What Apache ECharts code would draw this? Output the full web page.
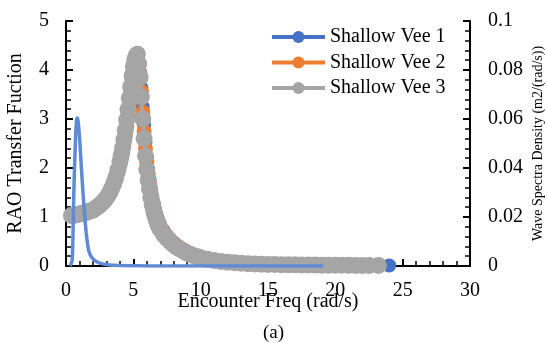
<!DOCTYPE html>
<html>
<head>
<meta charset="utf-8">
<script src="https://cdn.jsdelivr.net/npm/echarts@6/dist/echarts.min.js"></script>
<style>
  html, body { margin: 0; padding: 0; background: #fff; }
  #chart { width: 547px; height: 343px; }
</style>
</head>
<body>
<div id="chart"></div>
<script>
// Encounter frequency grid (rad/s) shared by the three RAO curves
const freq = [
  0.4, 0.55, 0.7, 0.85, 1.0, 1.15, 1.3, 1.45, 1.6, 1.75, 1.9, 2.05, 2.2, 2.35, 2.5, 2.65, 2.8, 2.95, 3.1, 3.25, 3.4, 3.55, 3.7, 3.85,
  4.0, 4.1, 4.2, 4.3, 4.4, 4.5, 4.6, 4.7, 4.8, 4.9, 5.0, 5.1, 5.2, 5.3, 5.4, 5.5, 5.6, 5.7, 5.8, 5.9, 6.0, 6.1, 6.2, 6.3, 6.4, 6.5, 6.6, 6.7, 6.8, 6.9,
  7.0, 7.25, 7.5, 7.75, 8.0, 8.25, 8.5, 8.75, 9.0, 9.25, 9.5, 9.75,
  10.0, 10.5, 11.0, 11.5, 12.0, 12.5, 13.0, 13.5, 14.0, 14.5, 15.0, 15.5, 16.0, 16.5, 17.0, 17.5, 18.0, 18.5, 19.0, 19.5, 20.0, 20.5, 21.0, 21.5, 22.0, 22.5,
  23.2, 24.0
];

// RAO transfer function, Shallow Vee 1
const raoVee1 = [
  1.02, 1.02, 1.03, 1.04, 1.05, 1.06, 1.07, 1.08, 1.09, 1.10, 1.12, 1.14, 1.16, 1.19, 1.22, 1.26, 1.30, 1.35, 1.40, 1.47, 1.55, 1.64, 1.75, 1.89,
  2.04, 2.16, 2.30, 2.45, 2.63, 2.82, 3.03, 3.25, 3.47, 3.69, 3.89, 4.05, 4.15, 4.19, 4.12, 3.95, 3.64, 3.25, 2.87, 2.52, 2.22, 1.97, 1.76, 1.58, 1.42, 1.28, 1.16, 1.06, 0.97, 0.90,
  0.84, 0.72, 0.62, 0.54, 0.48, 0.42, 0.37, 0.33, 0.29, 0.26, 0.23, 0.21,
  0.19, 0.15, 0.12, 0.10, 0.085, 0.072, 0.062, 0.053, 0.046, 0.041, 0.036, 0.032, 0.029, 0.027, 0.025, 0.023, 0.021, 0.020, 0.019, 0.018, 0.017, 0.016, 0.015, 0.014, 0.013, 0.013,
  0.012, 0.011
];

// RAO transfer function, Shallow Vee 2
const raoVee2 = [
  1.02, 1.02, 1.03, 1.04, 1.05, 1.06, 1.07, 1.08, 1.09, 1.11, 1.12, 1.14, 1.17, 1.20, 1.23, 1.27, 1.31, 1.36, 1.41, 1.48, 1.56, 1.66, 1.77, 1.91,
  2.07, 2.19, 2.33, 2.49, 2.67, 2.87, 3.08, 3.30, 3.52, 3.74, 3.93, 4.09, 4.19, 4.22, 4.10, 3.90, 3.56, 3.14, 2.75, 2.40, 2.11, 1.88, 1.68, 1.51, 1.36, 1.23, 1.12, 1.02, 0.94, 0.87,
  0.81, 0.69, 0.60, 0.53, 0.46, 0.41, 0.36, 0.32, 0.28, 0.25, 0.22, 0.20,
  0.18, 0.145, 0.115, 0.095, 0.080, 0.068, 0.058, 0.050, 0.044, 0.039, 0.035, 0.031, 0.028, 0.026, 0.024, 0.022, 0.020, 0.019, 0.018, 0.017, 0.016, 0.015, 0.014, 0.013, 0.013, 0.012,
  0.011
];

// RAO transfer function, Shallow Vee 3
const raoVee3 = [
  1.03, 1.03, 1.04, 1.05, 1.06, 1.07, 1.08, 1.09, 1.10, 1.12, 1.13, 1.15, 1.18, 1.21, 1.24, 1.28, 1.32, 1.37, 1.43, 1.50, 1.59, 1.69, 1.81, 1.96,
  2.13, 2.26, 2.41, 2.58, 2.77, 2.98, 3.20, 3.43, 3.66, 3.88, 4.07, 4.21, 4.29, 4.32, 4.12, 3.85, 3.45, 3.00, 2.60, 2.25, 1.97, 1.75, 1.57, 1.40, 1.26, 1.14, 1.03, 0.94, 0.87, 0.80,
  0.75, 0.64, 0.56, 0.49, 0.43, 0.38, 0.34, 0.30, 0.26, 0.23, 0.21, 0.19,
  0.17, 0.14, 0.11, 0.09, 0.075, 0.065, 0.055, 0.048, 0.042, 0.037, 0.033, 0.030, 0.027, 0.025, 0.023, 0.021, 0.019, 0.018, 0.017, 0.016, 0.015, 0.014, 0.013, 0.012, 0.012, 0.011,
  0.010
];

// Wave spectrum (m2/(rad/s)) against encounter frequency
const specFreq = [
  0.3, 0.45, 0.5, 0.55, 0.6, 0.65, 0.7, 0.75, 0.8, 0.85, 0.9, 0.95, 1.0, 1.1, 1.2, 1.3, 1.4, 1.5, 1.6, 1.7, 1.85, 2.1, 2.5, 3.0, 3.5, 4.5,
  6.0, 8.0, 10.0, 12.0, 14.0, 16.0, 18.0, 19.1
];
const specDensity = [
  0, 0.002, 0.008, 0.022, 0.034, 0.043, 0.051, 0.057, 0.060, 0.0604, 0.059, 0.056, 0.053, 0.044, 0.035, 0.027, 0.0196, 0.0136, 0.009, 0.006, 0.004, 0.0024, 0.0012, 0.0006, 0.0003, 0.0001,
  0.00005, 0.00003, 0.00002, 0.00002, 0.00001, 0.00001, 0.00001, 0.00001
];

const seriesNames = ['Shallow Vee 1', 'Shallow Vee 2', 'Shallow Vee 3'];
const seriesColors = ['#4472C4', '#ED7D31', '#A5A5A5'];
const spectrumColor = '#5F8BD6';

const FONT = 'Liberation Serif';
const pairs = (xs, ys) => ys.map((y, i) => [xs[i], y]);

const chart = echarts.init(document.getElementById('chart'), null, { renderer: 'canvas' });

const axisCommon = {
  nameMoveOverlap: false,
  axisLine: { show: true, lineStyle: { color: '#000', width: 2 } },
  axisTick: { show: true, inside: true, length: 7, lineStyle: { color: '#000', width: 2 } },
  minorTick: { show: true, splitNumber: 5, length: 5, lineStyle: { color: '#000', width: 1.5 } },
  splitLine: { show: false },
  axisLabel: { color: '#000', fontFamily: FONT, fontSize: 20 }
};

chart.setOption({
  animation: false,
  backgroundColor: '#fff',
  grid: { left: 66, right: 77, top: 21, bottom: 77, containLabel: false, outerBoundsMode: 'none' },
  legend: {
    data: seriesNames,
    orient: 'vertical',
    left: 270,
    top: 27,
    padding: 0,
    itemWidth: 53,
    itemHeight: 15,
    itemGap: 5.5,
    lineStyle: { width: 4 },
    textStyle: { color: '#000', fontFamily: FONT, fontSize: 20 }
  },
  xAxis: Object.assign({}, axisCommon, {
    type: 'value',
    min: 0, max: 30, interval: 5,
    minorTick: Object.assign({}, axisCommon.minorTick, { splitNumber: 5 }),
    axisLabel: Object.assign({}, axisCommon.axisLabel, { margin: 15 }),
    name: 'Encounter Freq (rad/s)',
    nameLocation: 'middle',
    nameGap: 26,
    nameTextStyle: { color: '#000', fontFamily: FONT, fontSize: 20 }
  }),
  yAxis: [
    Object.assign({}, axisCommon, {
      type: 'value',
      min: 0, max: 5, interval: 1,
      position: 'left',
      axisLabel: Object.assign({}, axisCommon.axisLabel, { margin: 17 }),
      name: 'RAO Transfer Fuction',
      nameLocation: 'middle',
      nameGap: 40,
      nameTextStyle: { color: '#000', fontFamily: FONT, fontSize: 20 }
    }),
    Object.assign({}, axisCommon, {
      type: 'value',
      min: 0, max: 0.1, interval: 0.02,
      position: 'right',
      axisLabel: Object.assign({}, axisCommon.axisLabel, { margin: 18 }),
      name: 'Wave Spectra Density (m2/(rad/s))',
      nameLocation: 'middle',
      nameGap: 61,
      nameTextStyle: { color: '#000', fontFamily: FONT, fontSize: 14 }
    })
  ],
  graphic: [{
    type: 'text',
    left: 'center',
    top: 324,
    style: { text: '(a)', fill: '#000', font: '19px "Liberation Serif"' }
  }],
  series: [
    {
      name: seriesNames[0], type: 'line', yAxisIndex: 0,
      data: pairs(freq, raoVee1),
      symbol: 'circle', symbolSize: 14,
      itemStyle: { color: seriesColors[0] },
      lineStyle: { color: seriesColors[0], width: 4 },
      z: 2
    },
    {
      name: seriesNames[1], type: 'line', yAxisIndex: 0,
      data: pairs(freq, raoVee2),
      symbol: 'circle', symbolSize: 15,
      itemStyle: { color: seriesColors[1] },
      lineStyle: { color: seriesColors[1], width: 4 },
      z: 3
    },
    {
      name: seriesNames[2], type: 'line', yAxisIndex: 0,
      data: pairs(freq, raoVee3),
      symbol: 'circle', symbolSize: 17,
      itemStyle: { color: seriesColors[2] },
      lineStyle: { color: seriesColors[2], width: 4 },
      z: 4
    },
    {
      name: 'Wave Spectrum', type: 'line', yAxisIndex: 1,
      data: pairs(specFreq, specDensity),
      showSymbol: false, symbol: 'none',
      smooth: 0.2,
      lineStyle: { color: spectrumColor, width: 3.5 },
      z: 5
    }
  ]
});
</script>
</body>
</html>
